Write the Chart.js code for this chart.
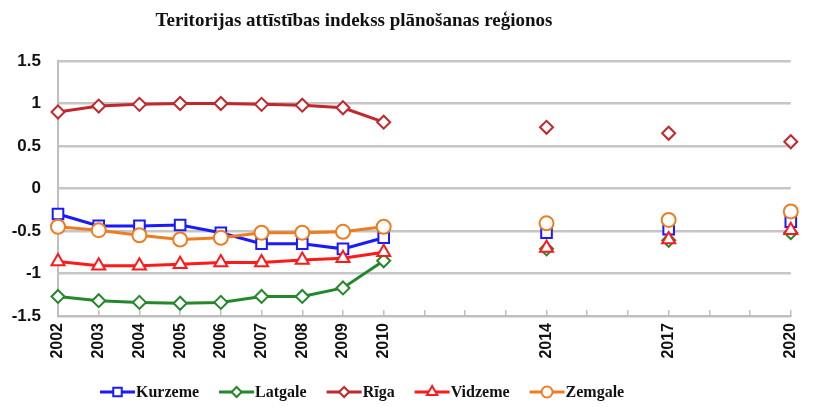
<!DOCTYPE html>
<html>
<head>
<meta charset="utf-8">
<title>Teritorijas attīstības indekss</title>
<script src="https://cdn.jsdelivr.net/npm/chart.js@4.4.1/dist/chart.umd.min.js"></script>
<style>
    html, body { margin: 0; padding: 0; background: #fff; }
    #wrap { width: 823px; height: 407px; position: relative; }
</style>
</head>
<body>
<div id="wrap"><canvas id="indexChart"></canvas></div>
<script>
const chartTitle = 'Teritorijas attīstības indekss plānošanas reģionos';

const years = ['2002', '2003', '2004', '2005', '2006', '2007', '2008', '2009', '2010',
    '2011', '2012', '2013', '2014', '2015', '2016', '2017', '2018', '2019', '2020'];
const shownYears = ['2002', '2003', '2004', '2005', '2006', '2007', '2008', '2009', '2010', '2014', '2017', '2020'];

const kurzeme = [-0.30, -0.44, -0.44, -0.43, -0.52, -0.65, -0.65, -0.71, -0.58, null, null, null, -0.52, null, null, -0.48, null, null, -0.39];
const latgale = [-1.27, -1.32, -1.34, -1.35, -1.34, -1.27, -1.27, -1.17, -0.85, null, null, null, -0.71, null, null, -0.61, null, null, -0.52];
const riga    = [0.90, 0.97, 0.99, 1.00, 1.00, 0.99, 0.98, 0.95, 0.78, null, null, null, 0.72, null, null, 0.65, null, null, 0.55];
const vidzeme = [-0.86, -0.91, -0.91, -0.89, -0.87, -0.87, -0.84, -0.82, -0.75, null, null, null, -0.70, null, null, -0.60, null, null, -0.49];
const zemgale = [-0.45, -0.49, -0.55, -0.60, -0.58, -0.52, -0.52, -0.51, -0.45, null, null, null, -0.41, null, null, -0.37, null, null, -0.27];

const yMin = -1.5;
const yMax = 1.5;
const yStep = 0.5;

function series(label, data, color, style, radius, order) {
    return {
        label: label,
        data: data,
        borderColor: color,
        backgroundColor: color,
        borderWidth: 3,
        pointStyle: style,
        pointRadius: radius,
        pointBorderWidth: 2,
        pointBackgroundColor: '#fff',
        pointBorderColor: color,
        spanGaps: false,
        tension: 0,
        fill: false,
        clip: false,
        order: order
    };
}

// own marker drawing for the legend, same geometry as Chart.js points
function drawMarker(ctx, style, x, y, r) {
    ctx.beginPath();
    if (style === 'circle') {
        ctx.arc(x, y, r, 0, Math.PI * 2);
    } else if (style === 'rect') {
        const s = r * Math.SQRT1_2;
        ctx.rect(x - s, y - s, 2 * s, 2 * s);
    } else if (style === 'rectRot') {
        ctx.moveTo(x, y - r);
        ctx.lineTo(x + r, y);
        ctx.lineTo(x, y + r);
        ctx.lineTo(x - r, y);
        ctx.closePath();
    } else if (style === 'triangle') {
        const a = Math.PI / 2;
        ctx.moveTo(x + Math.cos(-a) * r, y + Math.sin(-a) * r);
        ctx.lineTo(x + Math.cos(-a + 2 * Math.PI / 3) * r, y + Math.sin(-a + 2 * Math.PI / 3) * r);
        ctx.lineTo(x + Math.cos(-a + 4 * Math.PI / 3) * r, y + Math.sin(-a + 4 * Math.PI / 3) * r);
        ctx.closePath();
    }
    ctx.fill();
    ctx.stroke();
}

const titlePlugin = {
    id: 'plotTitle',
    afterDraw(chart) {
        const ctx = chart.ctx;
        ctx.save();
        ctx.font = 'bold 19px "Liberation Serif"';
        ctx.fillStyle = '#111';
        ctx.textAlign = 'center';
        ctx.textBaseline = 'middle';
        ctx.fillText(chartTitle, 354, 21);
        ctx.restore();
    }
};

const legendPlugin = {
    id: 'lineLegend',
    afterDraw(chart) {
        const ctx = chart.ctx;
        const y = 392;
        let x = 100;
        ctx.save();
        ctx.font = 'bold 16px "Liberation Serif"';
        ctx.textBaseline = 'middle';
        ctx.textAlign = 'left';
        chart.data.datasets.forEach(ds => {
            ctx.strokeStyle = ds.borderColor;
            ctx.lineWidth = 3;
            ctx.beginPath();
            ctx.moveTo(x, y);
            ctx.lineTo(x + 35, y);
            ctx.stroke();
            ctx.fillStyle = '#fff';
            ctx.lineWidth = 2;
            drawMarker(ctx, ds.pointStyle, x + 17.5, y, ds.pointRadius - 1.5);
            ctx.fillStyle = '#111';
            ctx.fillText(ds.label, x + 36, y + 1);
            x += 36 + ctx.measureText(ds.label).width + 20;
        });
        ctx.restore();
    }
};

const ctx = document.getElementById('indexChart').getContext('2d');
new Chart(ctx, {
    type: 'line',
    data: {
        labels: years,
        datasets: [
            series('Kurzeme', kurzeme, '#1a1aff', 'rect', 7.5, 5),
            series('Latgale', latgale, '#22882a', 'rectRot', 6.5, 4),
            series('Rīga', riga, '#c0282d', 'rectRot', 6.5, 3),
            series('Vidzeme', vidzeme, '#ff1a1a', 'triangle', 7.5, 2),
            series('Zemgale', zemgale, '#ee7d22', 'circle', 7, 1)
        ]
    },
    options: {
        responsive: true,
        maintainAspectRatio: false,
        animation: false,
        layout: { padding: { top: 61, right: 11, bottom: 0, left: 0 } },
        plugins: {
            legend: { display: false },
            title: { display: false },
            tooltip: { enabled: false }
        },
        scales: {
            x: {
                type: 'category',
                afterFit: (scale) => { scale.height = 91; },
                grid: {
                    drawOnChartArea: false,
                    drawTicks: true,
                    tickLength: -6,
                    color: '#bfbfbf',
                    lineWidth: 1.5
                },
                border: { color: '#bfbfbf', width: 2 },
                ticks: {
                    autoSkip: false,
                    minRotation: 90,
                    maxRotation: 90,
                    padding: 13,
                    color: '#111',
                    font: { family: '"Liberation Sans"', size: 16, weight: 'bold' },
                    callback: (val, i) => shownYears.includes(years[i]) ? years[i] : ''
                }
            },
            y: {
                min: yMin,
                max: yMax,
                afterFit: (scale) => { scale.width = 58; },
                grid: { color: '#c6c6c6', lineWidth: 2.5, drawTicks: false },
                border: { color: '#bfbfbf', width: 2 },
                ticks: {
                    stepSize: yStep,
                    padding: 17,
                    color: '#111',
                    font: { family: '"Liberation Sans"', size: 17, weight: 'bold' },
                    callback: (v) => String(v)
                }
            }
        }
    },
    plugins: [titlePlugin, legendPlugin]
});
</script>
</body>
</html>
